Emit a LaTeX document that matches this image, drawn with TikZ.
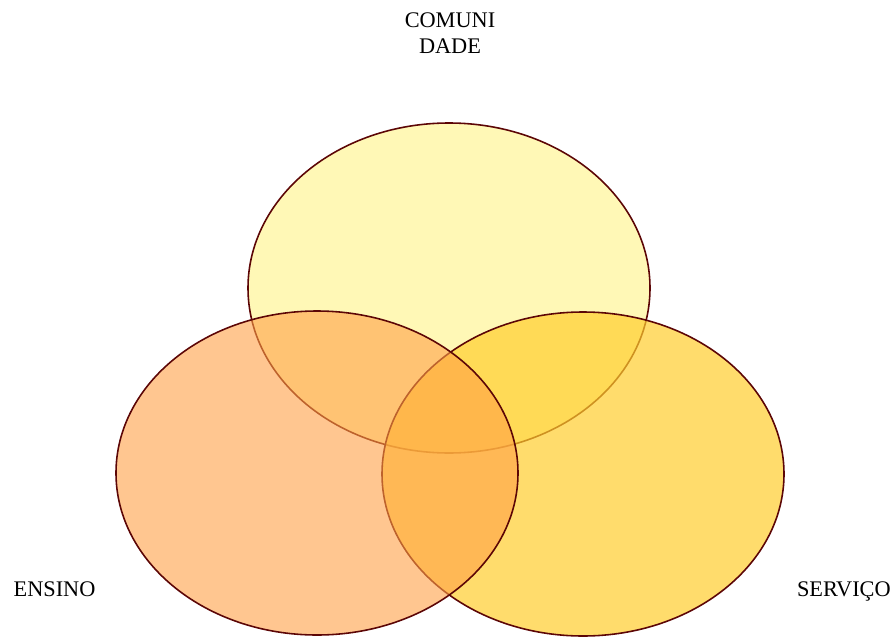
\documentclass[tikz,border=0pt]{standalone}
\usepackage{fontspec}
\setmainfont{Liberation Serif}
\usepackage{xcolor}
\usepackage{tikz}
\usetikzlibrary{positioning}

\definecolor{rimbrown}{RGB}{92,6,6}
\definecolor{comfill}{RGB}{255,241,110}
\definecolor{serfill}{RGB}{255,205,45}
\definecolor{ensfill}{RGB}{255,160,70}

\begin{document}
\begin{tikzpicture}[x=0.02cm,y=-0.02cm,
    venn/.style={draw=rimbrown,line width=0.9pt},
    lbl/.style={font=\fontsize{12.7}{14.7}\selectfont,inner sep=0pt}]
  \useasboundingbox (0,0) rectangle (896,639);
  \coordinate (Ccom) at (449,288);
  \coordinate (Cser) at (583,474);
  \coordinate (Cens) at (317,473);
  % the three circles
  \draw[venn,fill=comfill,fill opacity=0.5] (Ccom) ellipse [x radius=201,y radius=165];
  \draw[venn,fill=serfill,fill opacity=0.7] (Cser) ellipse [x radius=201,y radius=162];
  \draw[venn,fill=ensfill,fill opacity=0.6] (Cens) ellipse [x radius=201,y radius=162];
  % labels
  \node[lbl,align=center,anchor=base] (comunidade) at (450,53.3) {COMUNI\\DADE};
  \node[lbl,anchor=base west] (ensino) at (13.3,596.7) {ENSINO};
  \node[lbl,anchor=base west] (servico) at (796.7,596.7) {SERVIÇO};
\end{tikzpicture}
\end{document}
